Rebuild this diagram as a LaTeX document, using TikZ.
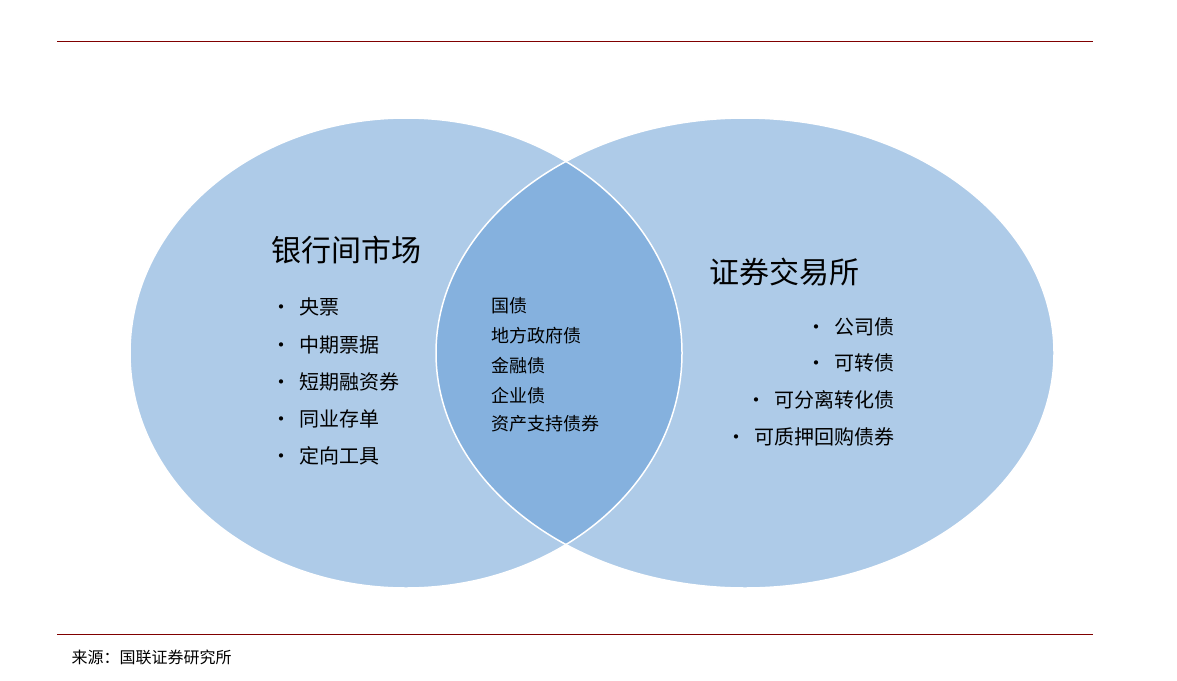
\documentclass[tikz,border=0pt]{standalone}
\usepackage{fontspec}
\setmainfont{Noto Sans CJK SC}
\begin{document}
\begin{tikzpicture}[x=1pt,y=-1pt,
  rule/.style={draw=red!50!black,line width=0.8pt},
  circ/.style={fill=lightb,draw=white,line width=1.5pt},
  title/.style={font=\fontsize{30}{32}\selectfont,anchor=west},
  item/.style={font=\fontsize{20}{22}\selectfont},
  mid/.style={font=\fontsize{18}{20}\selectfont,anchor=west}]
\definecolor{lightb}{HTML}{AECBE8}
\definecolor{darkb}{HTML}{85B1DE}
\useasboundingbox (0,0) rectangle (1177,680);
\coordinate (l1) at (57,41); \coordinate (r1) at (1093,41);
\coordinate (l2) at (57,634); \coordinate (r2) at (1093,634);
\draw[rule] (l1) -- (r1);
\draw[rule] (l2) -- (r2);
\fill[lightb] (406,353) ellipse [x radius=276,y radius=235];
\fill[lightb] (745,353) ellipse [x radius=309,y radius=235];
\begin{scope}
\clip (406,353) ellipse [x radius=276,y radius=235];
\fill[darkb] (745,353) ellipse [x radius=309,y radius=235];
\end{scope}
\draw[white,line width=1.5pt] (406,353) ellipse [x radius=276,y radius=235];
\draw[white,line width=1.5pt] (745,353) ellipse [x radius=309,y radius=235];
\node[title] (lt) at (268,250) {银行间市场};
\node[title] (rt) at (706,272) {证券交易所};
\foreach \t/\y [count=\i] in {央票/307,中期票据/345,短期融资券/382,同业存单/419,定向工具/456}
  \node[item,anchor=west] (li\i) at (268,\y) {•\hspace{8pt}\t};
\foreach \t/\y [count=\i] in {国债/306,地方政府债/336,金融债/366,企业债/396,资产支持债券/424}
  \node[mid] (m\i) at (488,\y) {\t};
\foreach \t/\y [count=\i] in {公司债/327,可转债/363,可分离转化债/400,可质押回购债券/437}
  \node[item,anchor=east] (ri\i) at (898,\y) {•\hspace{8pt}\t};
\node[font=\fontsize{16}{18}\selectfont,anchor=west] (src) at (68,657) {来源：国联证券研究所};
\end{tikzpicture}
\end{document}
